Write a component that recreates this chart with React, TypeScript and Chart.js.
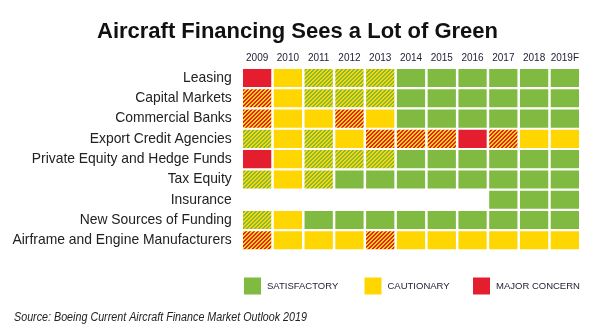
import React, { useEffect, useRef } from 'react';
import { Chart, registerables } from 'chart.js';

Chart.register(...registerables);

const titleText = 'Aircraft Financing Sees a Lot of Green';
const sourceNote = 'Source: Boeing Current Aircraft Finance Market Outlook 2019';

const years = ['2009', '2010', '2011', '2012', '2013', '2014', '2015', '2016', '2017', '2018', '2019F'];

const sources = [
  'Leasing',
  'Capital Markets',
  'Commercial Banks',
  'Export Credit Agencies',
  'Private Equity and Hedge Funds',
  'Tax Equity',
  'Insurance',
  'New Sources of Funding',
  'Airframe and Engine Manufacturers',
];

// G = satisfactory, Y = cautionary, R = major concern,
// GY = satisfactory/cautionary (hatched), RY = cautionary/major concern (hatched), '' = no rating
const leasing = ['R', 'Y', 'GY', 'GY', 'GY', 'G', 'G', 'G', 'G', 'G', 'G'];
const capitalMarkets = ['RY', 'Y', 'GY', 'GY', 'GY', 'G', 'G', 'G', 'G', 'G', 'G'];
const commercialBanks = ['RY', 'Y', 'Y', 'RY', 'Y', 'G', 'G', 'G', 'G', 'G', 'G'];
const exportCredit = ['GY', 'Y', 'GY', 'Y', 'RY', 'RY', 'RY', 'R', 'RY', 'Y', 'Y'];
const privateEquity = ['R', 'Y', 'GY', 'GY', 'GY', 'G', 'G', 'G', 'G', 'G', 'G'];
const taxEquity = ['GY', 'Y', 'GY', 'G', 'G', 'G', 'G', 'G', 'G', 'G', 'G'];
const insurance = ['', '', '', '', '', '', '', '', 'G', 'G', 'G'];
const newSources = ['GY', 'Y', 'G', 'G', 'G', 'G', 'G', 'G', 'G', 'G', 'G'];
const manufacturers = ['RY', 'Y', 'Y', 'Y', 'RY', 'Y', 'Y', 'Y', 'Y', 'Y', 'Y'];

const statusRows = [
  leasing,
  capitalMarkets,
  commercialBanks,
  exportCredit,
  privateEquity,
  taxEquity,
  insurance,
  newSources,
  manufacturers,
];

const legendLabels = ['SATISFACTORY', 'CAUTIONARY', 'MAJOR CONCERN'];
const legendCodes = ['G', 'Y', 'R'];

const GREEN = '#80BA41';
const YELLOW = '#FFD600';
const RED = '#E41E2E';
const FONT = '"Liberation Sans", Arial, Helvetica, sans-serif';

function hexToRgb(h: string) {
  const n = parseInt(h.slice(1), 16);
  return [(n >> 16) & 255, (n >> 8) & 255, n & 255];
}

function makeHatch(base: string, stripe: string) {
  const size = 4;
  const c = document.createElement('canvas');
  c.width = size;
  c.height = size;
  const g = c.getContext('2d')!;
  const img = g.createImageData(size, size);
  const a = hexToRgb(base);
  const b = hexToRgb(stripe);
  for (let y = 0; y < size; y++) {
    for (let x = 0; x < size; x++) {
      const col = (x + y) % size < 2 ? b : a;
      const i = (y * size + x) * 4;
      img.data[i] = col[0];
      img.data[i + 1] = col[1];
      img.data[i + 2] = col[2];
      img.data[i + 3] = 255;
    }
  }
  g.putImageData(img, 0, 0);
  return g.createPattern(c, 'repeat')!;
}

export default function App() {
  const ref = useRef<HTMLCanvasElement>(null);

  useEffect(() => {
    const fills: Record<string, any> = {
      G: GREEN,
      Y: YELLOW,
      R: RED,
      GY: makeHatch(GREEN, YELLOW),
      RY: makeHatch(YELLOW, RED),
    };

    const datasets = years.map((yr, c) => ({
      label: yr,
      data: statusRows.map((r) => (r[c] ? [c, c + 1] : null)),
      backgroundColor: statusRows.map((r) => (r[c] ? fills[r[c]] : 'rgba(0,0,0,0)')),
      borderColor: '#ffffff',
      borderWidth: { top: 1.1, bottom: 1.1, left: 1.25, right: 1.25 },
      borderSkipped: false,
      grouped: false,
      categoryPercentage: 1,
      barPercentage: 1,
      inflateAmount: 0,
    }));

    const extras = {
      id: 'extras',
      afterDraw(chart: any) {
        const { ctx, width } = chart;
        ctx.save();
        // title
        ctx.font = `bold 22px ${FONT}`;
        ctx.fillStyle = '#111111';
        ctx.textAlign = 'center';
        ctx.textBaseline = 'middle';
        ctx.fillText(titleText, width / 2, 32.2);
        // legend
        const boxX = [244, 364.5, 473];
        const size = 17;
        const top = 277.5;
        ctx.font = `9.5px ${FONT}`;
        ctx.textAlign = 'left';
        legendLabels.forEach((lab, i) => {
          ctx.fillStyle = fills[legendCodes[i]];
          ctx.fillRect(boxX[i], top, size, size);
          ctx.fillStyle = '#23233a';
          ctx.fillText(lab, boxX[i] + size + 6, top + size / 2 + 0.5);
        });
        // source
        ctx.font = `italic 12.5px "Liberation Sans Narrow", ${FONT}`;
        ctx.fillStyle = '#222222';
        ctx.fillText(sourceNote, 14, 317.5, 293);
        ctx.restore();
      },
    };

    const chart = new Chart(ref.current!, {
      type: 'bar',
      data: { labels: sources, datasets: datasets as any },
      options: {
        indexAxis: 'y',
        responsive: false,
        animation: false,
        layout: { padding: { left: 0, right: 14.75, top: 52.9, bottom: 84.6 } },
        plugins: {
          legend: { display: false },
          tooltip: { enabled: false },
          title: { display: false },
        },
        scales: {
          x: {
            type: 'linear',
            position: 'top',
            min: 0,
            max: 11,
            grid: { display: false, drawTicks: false },
            border: { display: false },
            ticks: {
              autoSkip: false,
              maxRotation: 0,
              padding: 4,
              color: '#23233a',
              font: { family: FONT, size: 10 },
              callback: (_v: any, i: number) => years[i],
            },
            afterBuildTicks: (s: any) => {
              s.ticks = years.map((_, i) => ({ value: i + 0.5 }));
            },
            afterFit: (s: any) => {
              s.height = 15;
            },
          },
          y: {
            type: 'category',
            grid: { display: false, drawTicks: false },
            border: { display: false },
            ticks: {
              autoSkip: false,
              padding: 10,
              color: '#222222',
              font: { family: FONT, size: 13.9 },
            },
            afterFit: (s: any) => {
              s.width = 241.75;
            },
          },
        },
      } as any,
      plugins: [extras],
    });
    return () => chart.destroy();
  }, []);

  return (
    <div style={{ position: 'fixed', left: 0, top: 0, width: 595, height: 335, background: '#ffffff' }}>
      <canvas ref={ref} width={595} height={335} style={{ display: 'block' }} />
    </div>
  );
}
